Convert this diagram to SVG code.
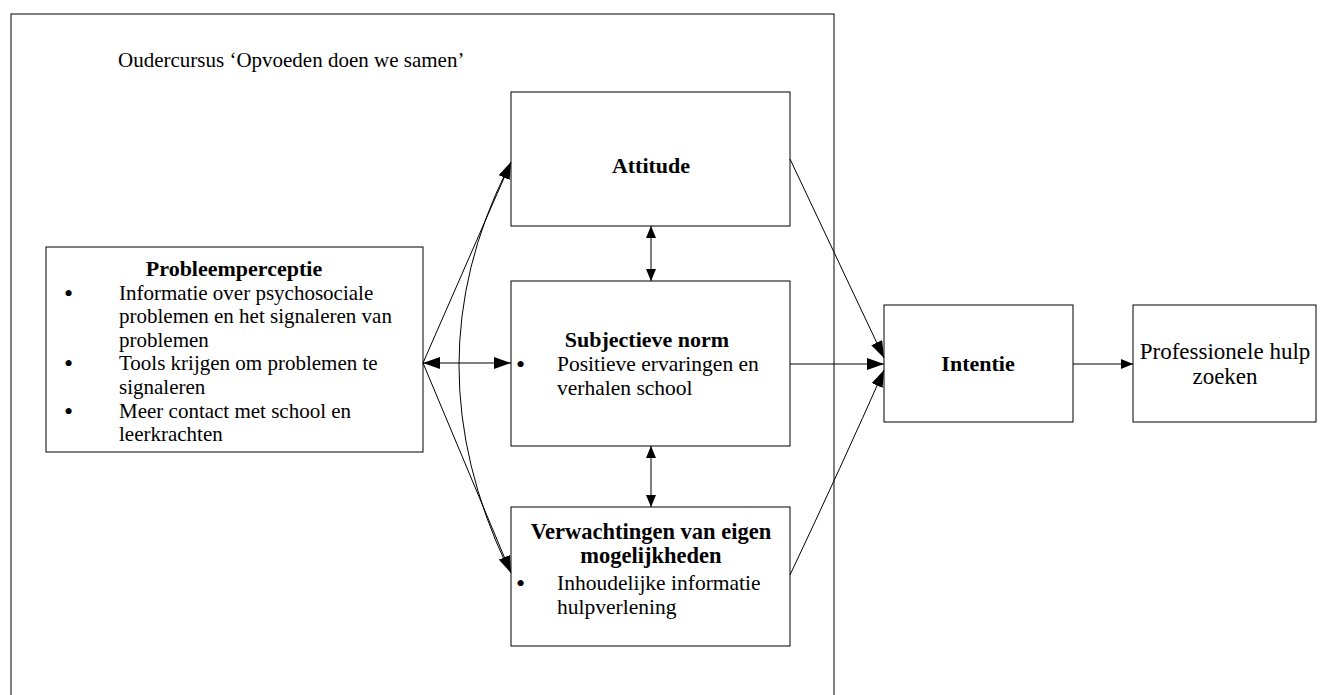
<svg xmlns="http://www.w3.org/2000/svg" width="1320" height="695" viewBox="0 0 1320 695">
<style>
text{font-family:"Liberation Serif","Times New Roman",serif;font-size:21.5px;fill:#000}
.b{font-weight:bold;font-size:22px}
.s{font-size:21px}
.bu{font-size:26px}
.box{fill:#fff;stroke:#000;stroke-width:1}
.c{text-anchor:middle}
.ln{fill:none;stroke:#000;stroke-width:1}
</style>
<defs>
<marker id="ah" viewBox="0 0 17 12" refX="17" refY="6" markerWidth="17" markerHeight="12" markerUnits="userSpaceOnUse" orient="auto-start-reverse"><path d="M0,0 L17,6 L0,12 z" fill="#000"/></marker>
<marker id="as" viewBox="0 0 12 10" refX="12" refY="5" markerWidth="12" markerHeight="10" markerUnits="userSpaceOnUse" orient="auto-start-reverse"><path d="M0,0 L12,5 L0,10 z" fill="#000"/></marker>
</defs>
<g id="frame">
<rect x="11" y="14" width="823" height="700" fill="none" stroke="#000" stroke-width="1"/>
<text x="118" y="67" class="s">Oudercursus ‘Opvoeden doen we samen’</text>
</g>
<g id="probleemperceptie">
<rect x="46" y="247" width="377" height="205" class="box"/>
<text x="234" y="276" class="b c">Probleemperceptie</text>
<text x="64" y="302" class="bu">•</text>
<text x="119" y="300" class="s">Informatie over psychosociale</text>
<text x="119" y="323" class="s">problemen en het signaleren van</text>
<text x="119" y="347" class="s">problemen</text>
<text x="64" y="372" class="bu">•</text>
<text x="119" y="370" class="s">Tools krijgen om problemen te</text>
<text x="119" y="394" class="s">signaleren</text>
<text x="64" y="420" class="bu">•</text>
<text x="119" y="418" class="s">Meer contact met school en</text>
<text x="119" y="441" class="s">leerkrachten</text>
</g>
<g id="attitude">
<rect x="511" y="92" width="279" height="134" class="box"/>
<text x="651" y="173" class="b c">Attitude</text>
</g>
<g id="subjectieve-norm">
<rect x="511" y="281" width="279" height="165" class="box"/>
<text x="647" y="347" class="b c">Subjectieve norm</text>
<text x="516" y="373" class="bu">•</text>
<text x="557" y="371">Positieve ervaringen en</text>
<text x="557" y="395">verhalen school</text>
</g>
<g id="verwachtingen">
<rect x="511" y="507" width="279" height="139" class="box"/>
<text x="651" y="539" class="b c" style="font-size:22.5px">Verwachtingen van eigen</text>
<text x="651" y="563" class="b c" style="font-size:22.5px">mogelijkheden</text>
<text x="516" y="592" class="bu">•</text>
<text x="557" y="590">Inhoudelijke informatie</text>
<text x="557" y="614">hulpverlening</text>
</g>
<g id="intentie">
<rect x="884" y="305" width="189" height="117" class="box"/>
<text x="978" y="371" class="b c">Intentie</text>
</g>
<g id="professionele-hulp">
<rect x="1133" y="305" width="183" height="117" class="box"/>
<text x="1225" y="359" class="c" style="font-size:23px">Professionele hulp</text>
<text x="1225" y="384" class="c" style="font-size:23px">zoeken</text>
</g>
<g id="connectors">
<line x1="423" y1="363" x2="511" y2="363" class="ln" marker-start="url(#ah)" marker-end="url(#ah)"/>
<line x1="423" y1="363" x2="511" y2="162" class="ln" marker-end="url(#ah)"/>
<line x1="423" y1="363" x2="511" y2="573" class="ln" marker-end="url(#ah)"/>
<path d="M507,170 Q411,363 507,566" class="ln"/>
<line x1="651" y1="226" x2="651" y2="281" class="ln" marker-start="url(#as)" marker-end="url(#as)"/>
<line x1="651" y1="446" x2="651" y2="507" class="ln" marker-start="url(#as)" marker-end="url(#as)"/>
<line x1="790" y1="159" x2="884" y2="358" class="ln" marker-end="url(#ah)"/>
<line x1="790" y1="364" x2="884" y2="364" class="ln" marker-end="url(#ah)"/>
<path d="M790,575 Q842,465 884,370" class="ln" marker-end="url(#ah)"/>
<line x1="1073" y1="364" x2="1133" y2="364" class="ln" marker-end="url(#as)"/>
</g>
</svg>
